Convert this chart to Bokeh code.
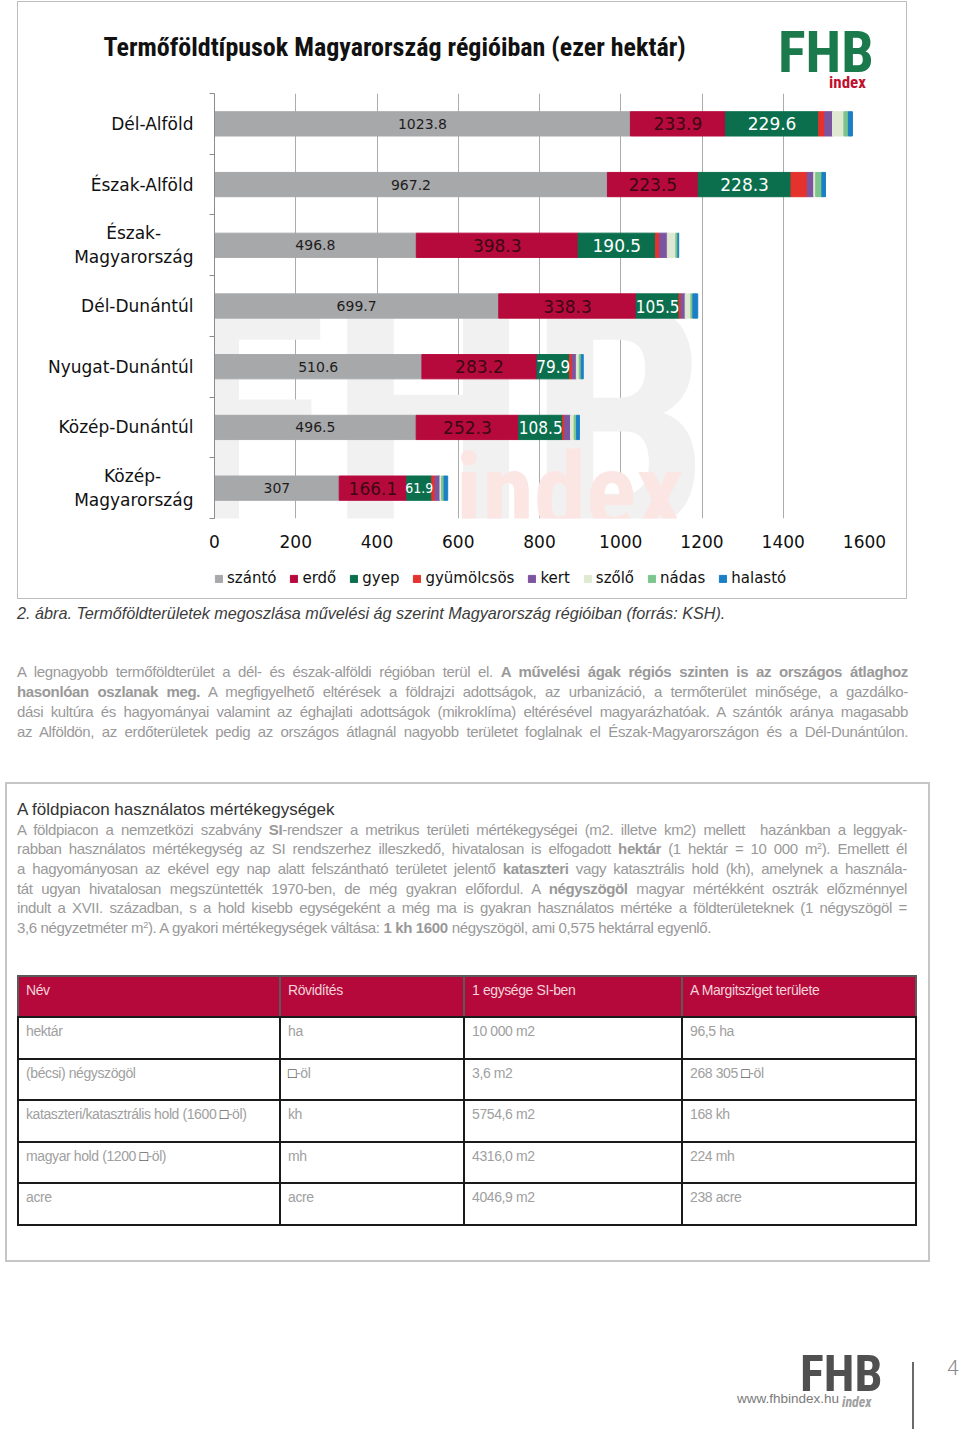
from bokeh.plotting import figure
from bokeh.models import ColumnDataSource, FixedTicker, Range1d, Label, Div, Legend, LegendItem
from bokeh.layouts import column
from bokeh.embed import file_html
from bokeh.resources import INLINE

# ---------------- data ----------------
regions = ["Dél-Alföld", "Észak-Alföld", "Észak-Magyarország", "Dél-Dunántúl",
           "Nyugat-Dunántúl", "Közép-Dunántúl", "Közép-Magyarország"]
region_labels = ["Dél-Alföld", "Észak-Alföld", "Észak-\u00a0\u00a0\u00a0\u00a0\u00a0\u00a0\nMagyarország",
                 "Dél-Dunántúl", "Nyugat-Dunántúl", "Közép-Dunántúl",
                 "Közép-\u00a0\u00a0\u00a0\u00a0\u00a0\u00a0\nMagyarország"]
szanto = [1023.8, 967.2, 496.8, 699.7, 510.6, 496.5, 307.0]
erdo = [233.9, 223.5, 398.3, 338.3, 283.2, 252.3, 166.1]
gyep = [229.6, 228.3, 190.5, 105.5, 79.9, 108.5, 61.9]
gyumolcsos = [15, 40, 10, 5, 7, 5, 8]
kert = [19, 16, 19, 10, 10, 14, 12]
szolo = [28, 5, 21, 14, 7, 9, 4]
nadas = [11, 15, 5, 5, 5, 6, 6]
halasto = [10, 9, 2, 12, 5, 7, 9]

series_names = ["szántó", "erdő", "gyep", "gyümölcsös", "kert", "szőlő", "nádas", "halastó"]
series_colors = ["#a7a8aa", "#b60a3c", "#0b6f4d", "#e5322d", "#7c54a0", "#dfe9d1", "#7cc58d", "#1b7fc6"]
x_ticks = [0, 200, 400, 600, 800, 1000, 1200, 1400, 1600]

title_text = "Termőföldtípusok Magyarország régióiban (ezer hektár)"

caption = "2. ábra. Termőföldterületek megoszlása művelési ág szerint Magyarország régióiban (forrás: KSH)."
para_lines = [
    "A legnagyobb termőföldterület a dél- és észak-alföldi régióban terül el. <b>A művelési ágak régiós szinten is az országos átlaghoz</b>",
    "<b>hasonlóan oszlanak meg.</b> A megfigyelhető eltérések a földrajzi adottságok, az urbanizáció, a termőterület minősége, a gazdálko-",
    "dási kultúra és hagyományai valamint az éghajlati adottságok (mikroklíma) eltérésével magyarázhatóak. A szántók aránya magasabb",
    "az Alföldön, az erdőterületek pedig az országos átlagnál nagyobb területet foglalnak el Észak-Magyarországon és a Dél-Dunántúlon.",
]
box_title = "A földpiacon használatos mértékegységek"
SUP2 = '<span style="font-size:9px;line-height:0;vertical-align:5px;">2</span>'
box_lines = [
    "A földpiacon a nemzetközi szabvány <b>SI</b>-rendszer a metrikus területi mértékegységei (m2. illetve km2) mellett&nbsp; hazánkban a leggyak-",
    "rabban használatos mértékegység az SI rendszerhez illeszkedő, hivatalosan is elfogadott <b>hektár</b> (1 hektár = 10 000 m" + SUP2 + "). Emellett él",
    "a hagyományosan az ekével egy nap alatt felszántható területet jelentő <b>kataszteri</b> vagy katasztrális hold (kh), amelynek a használa-",
    "tát ugyan hivatalosan megszüntették 1970-ben, de még gyakran előfordul. A <b>négyszögöl</b> magyar mértékként osztrák előzménnyel",
    "indult a XVII. században, s a hold kisebb egységeként a még ma is gyakran használatos mértéke a földterületeknek (1 négyszögöl =",
    "3,6 négyzetméter m" + SUP2 + "). A gyakori mértékegységek váltása: <b>1 kh 1600</b> négyszögöl, ami 0,575 hektárral egyenlő.",
]
table_header = ["Név", "Rövidítés", "1 egysége SI-ben", "A Margitsziget területe"]
table_rows = [
    ["hektár", "ha", "10 000 m2", "96,5 ha"],
    ["(bécsi) négyszögöl", "□-öl", "3,6 m2", "268 305 □-öl"],
    ["kataszteri/katasztrális hold (1600 □-öl)", "kh", "5754,6 m2", "168 kh"],
    ["magyar hold (1200 □-öl)", "mh", "4316,0 m2", "224 mh"],
    ["acre", "acre", "4046,9 m2", "238 acre"],
]

# ---------------- chart ----------------
n = len(regions)
series = [szanto, erdo, gyep, gyumolcsos, kert, szolo, nadas, halasto]
keys = ["s%d" % i for i in range(len(series))]
ypos = [n - i - 0.5 for i in range(n)]
data = {"y": ypos}
for k, arr in zip(keys, series):
    data[k] = arr
source = ColumnDataSource(data)

COND = "Roboto Condensed"

p = figure(width=888, height=556, x_range=Range1d(0, 1600), y_range=Range1d(0, n),
           output_backend="svg", toolbar_location=None,
           min_border_left=196, min_border_right=42, min_border_top=91, min_border_bottom=40)
p.outline_line_alpha = 0
p.background_fill_color = "white"
p.border_fill_color = "white"

# watermark (behind the bars, data-space anchored)
p.add_layout(Label(x=-100, y=1.61, text="FHB", text_font=COND, text_font_style="bold",
                   text_font_size="325px", text_baseline="alphabetic", text_color="#f1f1f1",
                   level="underlay"))
p.add_layout(Label(x=594, y=0.43, text="index", text_font=COND, text_font_style="bold",
                   text_font_size="105px", text_baseline="alphabetic", text_color="#fbe6e3",
                   level="underlay"))

bars = p.hbar_stack(keys, y="y", height=0.4, color=series_colors, source=source)

# bar value labels
ppu = 650 / 1600
lx, ly, lt, lc, lf, lfam = [], [], [], [], [], []
label_specs = [(0, "#1d1d1d", 14), (1, "#3b0713", 17), (2, "#ffffff", 17)]
for si, col, base in label_specs:
    for i in range(n):
        left = sum(series[j][i] for j in range(si))
        v = series[si][i]
        txt = "%g" % v
        seg = v * ppu
        em = sum(0.318 if ch == "." else 0.636 for ch in txt)
        fam = "DejaVu Sans"
        fs = base
        if em * base > seg * 1.02:
            fam = "DejaVu Sans Condensed"
            fs = min(base, 1.1 * seg / (em * 0.9))
        lx.append(left + v / 2)
        ly.append(ypos[i])
        lt.append(txt)
        lc.append(col)
        lf.append("%dpx" % round(fs))
        lfam.append(fam)
lab_src = ColumnDataSource(dict(x=lx, y=ly, t=lt, c=lc, f=lf, fam=lfam))
p.text(x="x", y="y", text="t", text_color="c", text_font_size="f", text_font="fam",
       source=lab_src, text_align="center", text_baseline="middle")

# axes
p.xaxis.ticker = FixedTicker(ticks=x_ticks)
p.xaxis.axis_line_alpha = 0
p.xaxis.major_tick_line_alpha = 0
p.xaxis.minor_tick_line_alpha = 0
p.xaxis.major_tick_out = 0
p.xaxis.major_tick_in = 0
p.xaxis.major_label_standoff = 16
p.xaxis.major_label_text_font = "DejaVu Sans"
p.xaxis.major_label_text_font_size = "17px"
p.xaxis.major_label_text_color = "#111111"

p.yaxis.ticker = FixedTicker(ticks=ypos, minor_ticks=list(range(n + 1)))
p.yaxis.major_label_overrides = {y: lab for y, lab in zip(ypos, region_labels)}
p.yaxis.axis_line_color = "#8c8c8c"
p.yaxis.major_tick_line_alpha = 0
p.yaxis.major_tick_out = 0
p.yaxis.major_tick_in = 0
p.yaxis.minor_tick_line_color = "#8c8c8c"
p.yaxis.minor_tick_out = 5
p.yaxis.minor_tick_in = 0
p.yaxis.major_label_standoff = 16
p.yaxis.major_label_text_font = "DejaVu Sans"
p.yaxis.major_label_text_font_size = "17px"
p.yaxis.major_label_text_color = "#111111"

p.ygrid.visible = False
p.xgrid.grid_line_color = "#ababab"
p.xgrid.grid_line_width = 1

# title (a blank trailing line lifts the text to its place)
p.title.text = title_text + "\n\u00a0"
p.title.text_font = COND
p.title.text_font_size = "26px"
p.title.text_font_style = "bold"
p.title.text_color = "#111111"
p.title.text_line_height = 0.9
p.title.align = "left"
p.title.offset = -111

# legend strip (same data; bars fall outside its view, only the legend shows)
lp = figure(width=888, height=40, x_range=Range1d(-20, -10), y_range=Range1d(50, 60),
            output_backend="svg", toolbar_location=None,
            min_border_left=148, min_border_right=0, min_border_top=0, min_border_bottom=0)
lp.outline_line_alpha = 0
lp.axis.visible = False
lp.grid.visible = False
lp.title.visible = False
lp.border_fill_color = "white"
lp.background_fill_color = "white"
lbars = lp.hbar_stack(keys, y="y", height=0.4, color=series_colors, source=source)
legend = Legend(items=[LegendItem(label=nm, renderers=[r]) for nm, r in zip(series_names, lbars)],
                orientation="horizontal", location="center_left", padding=0, margin=0, spacing=13,
                glyph_width=9, glyph_height=9, label_height=9, label_standoff=4,
                label_text_font="DejaVu Sans", label_text_font_size="15px",
                label_text_color="#111111", border_line_alpha=0, background_fill_alpha=0)
lp.add_layout(legend)

chart = column(p, lp, spacing=0, margin=(1, 0, 0, 17), styles={"border": "1px solid #bdbdbd"})

# ---------------- text below ----------------
DY = 599  # page y of div top
DX = 0    # page x of div left


def line_div(html, cx_left, cy, width, justify, size=15, color="#999999", lh=20, extra=""):
    top = cy - DY - lh / 2
    align = "text-align:justify;text-align-last:justify;" if justify else "text-align:left;"
    return ('<div style="position:absolute;left:%dpx;top:%.1fpx;width:%dpx;height:%dpx;'
            'line-height:%dpx;white-space:nowrap;%sfont-size:%spx;color:%s;%s">%s</div>'
            % (cx_left - DX, top, width, lh, lh, align, size, color, extra, html))


parts = []
# FHB logo in the chart's top-right corner
parts.append('<div style="position:absolute;left:%dpx;top:%.1fpx;font-family:&#39;Roboto Condensed&#39;;font-weight:bold;'
             'font-size:58px;line-height:58px;color:#1b7a4b;white-space:nowrap;">FHB</div>' % (778 - DX, 23.2 - DY))
parts.append('<div style="position:absolute;left:%dpx;top:%.1fpx;font-family:&#39;Roboto Condensed&#39;;font-weight:bold;'
             'font-size:17px;line-height:17px;color:#c0102e;white-space:nowrap;">index</div>' % (829 - DX, 73.5 - DY))

parts.append(line_div(caption, 17, 613, 900, False, 16.2, "#3c3c3c", 20, "font-style:italic;"))
para_y = [672, 692, 712, 732]
for txt, cy in zip(para_lines, para_y):
    parts.append(line_div(txt, 17, cy, 891, True, 15, "#999999", 20, "letter-spacing:-0.35px;"))
# box
parts.append('<div style="position:absolute;left:5px;top:%dpx;width:925px;height:480px;'
             'border:2px solid #c6c6c6;box-sizing:border-box;"></div>' % (782 - DY))
parts.append(line_div(box_title, 17, 810, 600, False, 17, "#333333", 20, ""))
box_y = [829.5, 849, 869, 888.5, 908, 928]
for k, (txt, cy) in enumerate(zip(box_lines, box_y)):
    parts.append(line_div(txt, 17, cy, 890, k < len(box_lines) - 1, 15, "#999999", 20, "letter-spacing:-0.35px;"))

# table
col_w = [262, 184, 218, 234]
cells = []
cells.append('<colgroup>' + ''.join('<col style="width:%dpx">' % w for w in col_w) + '</colgroup>')
cells.append('<tr style="height:41px;background:#b4093a;color:#f4d3da;">' +
             ''.join('<td style="border:2px solid #5a5a5a;border-bottom:2px solid #1a1a1a;vertical-align:top;'
                     'padding:4px 7px;">%s</td>' % h for h in table_header) + '</tr>')
for row in table_rows:
    cells.append('<tr style="height:41.6px;">' +
                 ''.join('<td style="border:2px solid #1a1a1a;vertical-align:top;padding:4px 7px;">%s</td>'
                         % c.replace("□", '<span style="color:#222">□</span>') for c in row) + '</tr>')
parts.append('<table style="position:absolute;left:%dpx;top:%dpx;width:898px;border-collapse:collapse;'
             'table-layout:fixed;font-size:14px;line-height:18px;color:#a0a0a0;letter-spacing:-0.4px;">%s</table>'
             % (17 - DX, 975 - DY, ''.join(cells)))

# footer
parts.append('<div style="position:absolute;left:%dpx;top:%dpx;font-family:&#39;Roboto Condensed&#39;;font-weight:bold;'
             'font-size:50px;line-height:36px;color:#505050;">FHB</div>' % (800 - DX, 1356 - DY))
parts.append('<div style="position:absolute;left:%dpx;top:%dpx;font-size:13.5px;line-height:16px;'
             'color:#7a7a7a;">www.fhbindex.hu</div>' % (737 - DX, 1391 - DY))
parts.append('<div style="position:absolute;left:%dpx;top:%dpx;font-family:&#39;Roboto Condensed&#39;;font-weight:bold;font-style:italic;'
             'font-size:14px;line-height:16px;color:#a0a0a0;">index</div>' % (842 - DX, 1394 - DY))
parts.append('<div style="position:absolute;left:%dpx;top:%dpx;width:2px;height:%dpx;background:#6a6a6a;"></div>'
             % (912 - DX, 1362 - DY, 1429 - 1362))
parts.append('<div style="position:absolute;left:%dpx;top:%dpx;font-family:Roboto;font-weight:300;font-size:21px;line-height:24px;'
             'color:#8a8a8a;">4</div>' % (947 - DX, 1356 - DY))

html = ('<div style="position:relative;overflow:visible;width:960px;height:830px;font-family:&#39;Liberation Sans&#39;, sans-serif;">%s</div>'
        % ''.join(parts))
div = Div(text=html, width=960, height=830, margin=0, styles={"overflow": "visible"})

layout = column(chart, div, spacing=0)

open("out.html", "w").write(file_html(layout, INLINE))
